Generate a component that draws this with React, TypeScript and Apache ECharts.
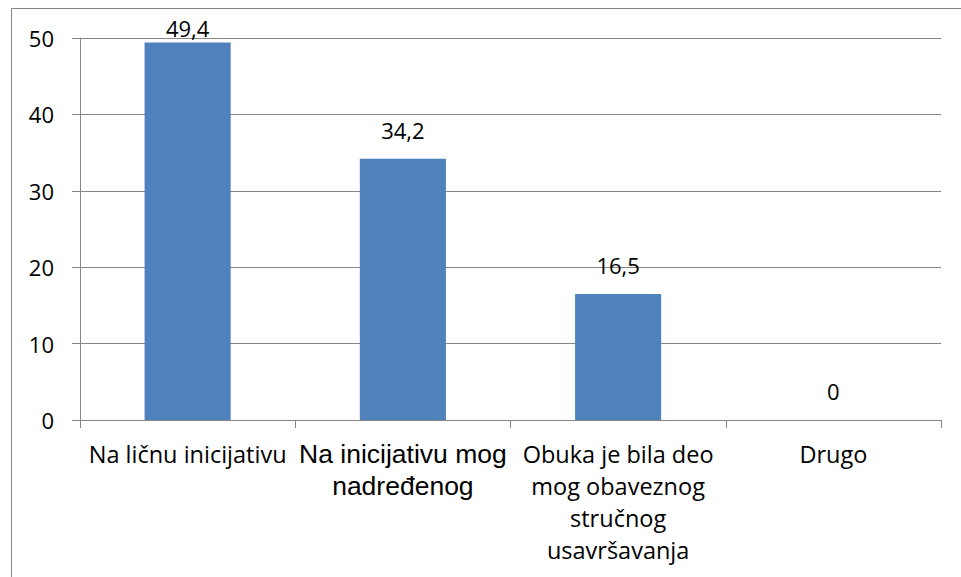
import React, { useEffect, useRef } from "react";
import * as echarts from "echarts";

const categories = [
  "Na ličnu inicijativu",
  "Na inicijativu mog\nnadređenog",
  "Obuka je bila deo\nmog obaveznog\nstručnog\nusavršavanja",
  "Drugo",
];
const values = [49.4, 34.2, 16.5, 0];
const yTicks = { min: 0, max: 50, interval: 10 };

const GRAY = "#868686";
const BAR = "#4F81BD";
const FONT = "'Open Sans', sans-serif";

export default function App() {
  const ref = useRef<HTMLDivElement>(null);
  useEffect(() => {
    if (!ref.current) return;
    const chart = echarts.init(ref.current, null, { renderer: "svg" });
    chart.setOption({
      animation: false,
      backgroundColor: "#ffffff",
      graphic: [
        {
          type: "rect",
          shape: { x: 11.5, y: 8.5, width: 1000, height: 1000 },
          style: { fill: "none", stroke: GRAY, lineWidth: 1 },
          silent: true,
        },
      ],
      grid: { left: 80, right: 20, top: 38, bottom: 157, containLabel: false },
      xAxis: {
        type: "category",
        data: categories,
        axisLine: { show: true, lineStyle: { color: GRAY, width: 1 } },
        axisTick: { show: true, length: 8, lineStyle: { color: GRAY } },
        axisLabel: {
          margin: 18,
          interval: 0,
          color: "#000",
          fontFamily: FONT,
          fontSize: 23.5,
          lineHeight: 32,
          align: "center",
          formatter: (v: string, i: number) => {
            if (i === 1) {
              return v
                .split("\n")
                .map((s) => `{a|${s}}`)
                .join("\n");
            }
            return v;
          },
          rich: {
            a: {
              fontFamily: "'Liberation Sans', Arial, sans-serif",
              fontSize: 26.5,
              lineHeight: 32,
              color: "#000",
            },
          },
        },
        splitLine: { show: false },
      },
      yAxis: {
        type: "value",
        min: yTicks.min,
        max: yTicks.max,
        interval: yTicks.interval,
        axisLine: { show: true, lineStyle: { color: GRAY, width: 1 } },
        axisTick: { show: true, length: 8, lineStyle: { color: GRAY } },
        axisLabel: {
          margin: 26,
          color: "#000",
          fontFamily: FONT,
          fontSize: 22,
        },
        splitLine: { show: true, lineStyle: { color: GRAY, width: 1 } },
      },
      series: [
        {
          type: "bar",
          barWidth: "40%",
          data: values.map((v, i) => ({
            value: v,
            label: { distance: i === 0 ? 4 : 18 },
          })),
          itemStyle: { color: BAR },
          label: {
            show: true,
            position: "top",
            color: "#000",
            fontFamily: FONT,
            fontSize: 22,
            formatter: (p: any) => String(p.value).replace(".", ","),
          },
        },
      ],
    });
    return () => chart.dispose();
  }, []);
  return (
    <div
      ref={ref}
      style={{ position: "absolute", left: 0, top: 0, width: 961, height: 577 }}
    />
  );
}
